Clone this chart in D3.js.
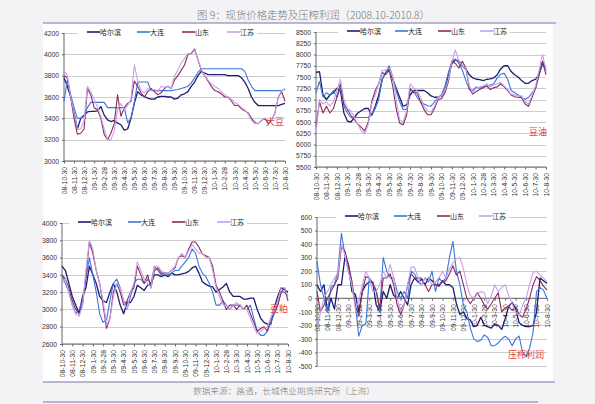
<!DOCTYPE html>
<html>
<head>
<meta charset="utf-8">
<script src="https://cdn.jsdelivr.net/npm/d3@7/dist/d3.min.js"></script>
<style>
  body { margin: 0; background: #f3f3f5; }
  svg { display: block; font-family: "Liberation Sans", Arial, sans-serif; }
  .cn { font-family: "Noto Sans CJK SC", sans-serif; }
  .axis path, .axis line { stroke: #666; }
  .axis text { fill: #333; font-size: 6.8px; }
</style>
</head>
<body>
<svg id="chart" width="595" height="404"></svg>
<script>
// tick labels along the time axis (one every 3 points)
const dateLabels = ["08-10-30","08-11-30","08-12-30","09-1-30","09-2-28","09-3-30","09-4-30",
  "09-5-30","09-6-30","09-7-30","09-8-30","09-9-30","09-10-30","09-11-30","09-12-30",
  "10-1-30","10-2-28","10-3-30","10-4-30","10-5-30","10-6-30","10-7-30","10-8-30"];
const regions = ["哈尔滨", "大连", "山东", "江苏"];

// 大豆 spot price
const soyHrb = [3780,3700,3600,3450,3300,3400,3430,3460,3465,3465,
  3470,3510,3430,3385,3370,3380,3355,3340,3290,3300,
  3400,3540,3650,3620,3605,3590,3580,3580,3600,3605,
  3605,3600,3600,3580,3590,3620,3630,3650,3700,3740,
  3800,3840,3825,3810,3810,3810,3810,3810,3810,3800,
  3800,3800,3800,3780,3740,3680,3600,3550,3520,3520,
  3520,3520,3520,3520,3520,3530,3540];
const soyDl = [3560,3760,3620,3500,3400,3400,3420,3500,3550,3550,
  3550,3550,3550,3500,3500,3500,3500,3500,3500,3360,
  3400,3550,3740,3740,3740,3740,3660,3660,3660,3660,
  3660,3660,3660,3665,3670,3680,3690,3700,3730,3780,
  3830,3865,3865,3865,3865,3865,3865,3865,3865,3865,
  3865,3865,3865,3865,3840,3760,3700,3660,3660,3660,
  3660,3660,3660,3660,3660,3660,3670];
const soySd = [3800,3780,3600,3400,3250,3260,3300,3680,3620,3500,
  3480,3400,3250,3200,3260,3350,3620,3420,3500,3540,
  3560,3750,3700,3640,3600,3650,3680,3650,3620,3640,
  3680,3700,3680,3760,3800,3850,3900,4000,4010,4050,
  3950,3850,3800,3750,3700,3660,3650,3630,3600,3600,
  3560,3520,3520,3490,3470,3450,3400,3360,3350,3380,
  3400,3350,3380,3450,3600,3650,3560];
const soyJs = [3850,3800,3600,3450,3300,3300,3380,3700,3650,3580,
  3500,3420,3300,3200,3200,3280,3480,3540,3480,3520,
  3580,3900,3750,3660,3640,3680,3660,3670,3650,3700,
  3690,3700,3680,3800,3850,3920,3960,4010,4000,4040,
  3950,3860,3800,3760,3720,3700,3680,3650,3620,3600,
  3580,3550,3530,3500,3480,3440,3380,3350,3350,3380,
  3400,3380,3380,3450,3600,3660,3680];

// 豆油 spot price
const oilHrb = [7600,7620,7100,7000,7100,7150,7250,7200,6700,6520,
  6500,6600,6700,6750,6800,6800,6650,6850,7100,7450,
  7600,7680,7450,7250,7050,6850,6880,7100,7200,7200,
  7200,7200,7150,7080,7050,7050,7080,7200,7550,7800,
  7880,7850,7750,7680,7550,7480,7450,7440,7420,7450,
  7460,7480,7550,7680,7750,7750,7620,7550,7500,7420,
  7360,7360,7420,7450,7560,7800,7650];
const oilDl = [7150,7400,7050,7150,7100,7200,7050,7250,6850,6700,
  6600,6600,6600,6600,6600,6600,6650,6800,7000,7450,
  7600,7750,7500,7200,6950,6780,6780,7200,7200,7050,
  6950,6900,6860,6850,6950,7050,7100,7300,7600,7850,
  7900,7800,7650,7420,7220,7200,7280,7250,7280,7300,
  7320,7350,7480,7560,7580,7450,7200,7150,7100,7050,
  7000,7050,7150,7250,7550,7850,7700];
const oilSd = [6400,6950,6700,6850,6700,6800,7050,7350,6900,6780,
  6650,6550,6450,6380,6300,6500,6950,7200,7350,7600,
  7550,7650,7300,6800,6480,6440,6650,7250,7150,7150,
  6950,6780,6660,6660,6800,7000,7020,7150,7400,7850,
  7800,7700,7850,7700,7250,7120,7180,7220,7260,7300,
  7220,7260,7280,7350,7280,7200,7100,7060,7050,7040,
  6900,6850,7050,7250,7550,7850,7550];
const oilJs = [6250,7000,6900,6950,6850,6950,7200,7450,7000,6800,
  6750,6600,6450,6300,6250,6450,6900,7100,7350,7650,
  7650,7700,7500,7000,6550,6500,6750,7350,7250,7200,
  7050,6850,6750,6720,6850,7050,7080,7200,7450,7850,
  8100,7850,7750,7700,7300,7150,7250,7280,7300,7350,
  7280,7320,7350,7380,7300,7220,7120,7100,7080,7080,
  6950,6900,7100,7300,7650,8000,7650];

// 豆粕 spot price
const mealHrb = [3500,3450,3300,3150,3050,2950,3150,3250,3500,3400,
  3300,3150,3100,3080,3200,3300,3200,3050,2950,3080,
  3080,3150,3280,3250,3220,3280,3300,3400,3400,3380,
  3400,3380,3420,3400,3400,3410,3420,3440,3480,3500,
  3420,3320,3290,3270,3260,3200,3230,3260,3300,3200,
  3150,3150,3150,3120,3120,3130,3130,3000,2900,2850,
  2830,2830,3020,3150,3250,3230,3200];
const mealDl = [3400,3300,3200,3050,2950,3000,3100,3350,3600,3400,
  3200,2950,2850,2880,3100,3300,3350,3250,3100,3000,
  3150,3300,3350,3350,3300,3350,3300,3500,3450,3400,
  3420,3400,3420,3450,3450,3500,3550,3600,3700,3650,
  3500,3420,3380,3300,3200,3050,3050,3100,3050,3000,
  3050,3050,3050,3000,3000,3050,2900,2750,2700,2700,
  2750,2850,2950,3050,3200,3200,3150];
const mealSd = [3400,3350,3250,3100,3000,2950,3050,3400,3780,3650,
  3450,3300,3050,2780,2900,3200,3300,3200,3050,3100,
  3200,3250,3500,3400,3300,3400,3250,3450,3480,3420,
  3420,3420,3450,3480,3600,3620,3600,3700,3780,3780,
  3720,3640,3620,3600,3500,3280,3200,3100,3000,3050,
  3050,3000,3050,3000,3050,2950,2850,2750,2780,2800,
  2750,2900,3000,3050,3200,3250,3100];
const mealJs = [3300,3350,3200,3050,2950,2920,3050,3450,3800,3700,
  3450,3300,3100,2820,2900,3150,3300,3250,3100,3000,
  3200,3300,3550,3450,3350,3300,3250,3500,3500,3450,
  3420,3420,3450,3500,3600,3650,3600,3680,3750,3700,
  3650,3650,3600,3600,3450,3250,3150,3050,3050,3000,
  3050,3080,3050,3000,3000,2900,2800,2720,2750,2780,
  2800,2900,3000,3100,3250,3250,3150];

// 压榨利润 crushing margin
const profitHrb = [100,50,100,-100,0,-80,100,100,300,250,
  50,30,-100,50,100,120,120,-50,-100,50,
  0,100,20,0,50,0,-50,100,150,120,
  140,100,150,130,100,90,130,100,100,80,
  -40,-120,-100,-150,-160,-210,-200,-140,-200,-210,
  -220,-190,-200,-230,-150,-60,-30,-80,-180,-200,
  -210,-210,-200,-100,150,130,110];
const profitDl = [270,100,0,-100,80,100,200,480,320,200,
  100,-50,-280,-200,-190,150,100,50,-100,300,
  200,150,150,50,0,50,0,200,180,120,
  100,150,120,200,50,150,120,150,300,420,
  200,100,-50,-100,-220,-300,-320,-310,-270,-290,
  -350,-350,-330,-300,-280,-300,-350,-300,-280,-400,
  -430,-370,-250,50,80,60,0];
const profitSd = [50,-100,-50,0,50,100,150,380,350,250,
  130,-50,-130,50,160,150,110,60,-80,150,
  150,180,100,-50,-120,-50,100,180,150,150,
  150,100,50,100,100,100,120,130,180,240,
  170,200,100,0,-40,0,40,0,-50,-80,
  -40,0,40,-100,-70,-60,-90,-60,-120,-140,
  -80,0,100,160,130,90,60];
const profitJs = [-220,-100,0,50,100,150,180,400,320,200,
  100,-80,-20,100,200,150,50,50,100,200,
  150,250,150,0,-100,-50,100,230,230,150,
  100,150,150,100,120,150,200,150,220,260,
  290,300,220,100,20,0,30,50,40,-40,
  20,100,50,80,100,20,-40,-100,-130,-50,
  0,100,190,200,170,150,120];

const lineColors = ["#1c1c70", "#3b76da", "#8c2b58", "#c7a0ee"];

const panels = [
  { tag: "大豆", series: [soyHrb, soyDl, soySd, soyJs], domain: [3000, 4200], step: 200,
    left: 64, right: 285, top: 33, bottom: 161, axisAt: 3000,
    legend: [23, 73, 118, 163], tagX: 275, tagY: 125 },
  { tag: "豆油", series: [oilHrb, oilDl, oilSd, oilJs], domain: [5500, 8500], step: 250,
    left: 316, right: 546, top: 32, bottom: 167, axisAt: 5500,
    legend: [31, 79, 122, 164], tagX: 538, tagY: 135 },
  { tag: "豆粕", series: [mealHrb, mealDl, mealSd, mealJs], domain: [2600, 4000], step: 200,
    left: 62, right: 288, top: 223, bottom: 344, axisAt: 2600,
    legend: [16, 66, 110, 155], tagX: 279, tagY: 312 },
  { tag: "压榨利润", series: [profitHrb, profitDl, profitSd, profitJs], domain: [-500, 600], step: 100,
    left: 317, right: 547, top: 217, bottom: 366, axisAt: 0,
    legend: [28, 77, 120, 162], tagX: 526, tagY: 358 }
];

let svg = d3.select("#chart");

function drawFrame(svg) {
  svg.append("rect").attr("x", 43).attr("y", 23).attr("width", 510).attr("height", 358)
    .attr("fill", "#ffffff");
  svg.append("line").attr("x1", 43).attr("x2", 556).attr("y1", 23).attr("y2", 23)
    .attr("stroke", "#a3a1c4").attr("stroke-width", 1.6);
  svg.append("line").attr("x1", 43).attr("x2", 555).attr("y1", 382).attr("y2", 382)
    .attr("stroke", "#a3a1c4").attr("stroke-width", 1.4);
  svg.append("line").attr("x1", 43).attr("x2", 538).attr("y1", 402).attr("y2", 402)
    .attr("stroke", "#a3a1c4").attr("stroke-width", 1.4);

  svg.append("text").attr("class", "cn")
    .attr("x", 197).attr("y", 19)
    .attr("textLength", 233).attr("lengthAdjust", "spacingAndGlyphs")
    .attr("fill", "#777").style("font-size", "10.5px").style("font-weight", 300)
    .text("图 9：现货价格走势及压榨利润（2008.10-2010.8）");

  svg.append("text").attr("class", "cn")
    .attr("x", 193).attr("y", 394)
    .attr("textLength", 182).attr("lengthAdjust", "spacingAndGlyphs")
    .attr("fill", "#777").style("font-size", "8.5px").style("font-weight", 300)
    .text("数据来源：路透，长城伟业期货研究所（上海）");
}

function drawPanel(svg, p) {
  let g = svg.append("g");
  let x = d3.scaleLinear().domain([0, 66]).range([p.left, p.right]);
  let y = d3.scaleLinear().domain(p.domain).range([p.bottom, p.top]);
  let ticks = d3.range(p.domain[0], p.domain[1] + 1, p.step);

  g.append("g").selectAll("line").data(ticks).enter().append("line")
    .attr("x1", p.left).attr("x2", p.right)
    .attr("y1", function(d) { return Math.round(y(d)) + 0.5; })
    .attr("y2", function(d) { return Math.round(y(d)) + 0.5; })
    .attr("stroke", "#c6c6c6").attr("stroke-width", 0.9);

  g.append("g").attr("class", "axis")
    .attr("transform", "translate(" + p.left + ",0)")
    .call(d3.axisLeft(y).tickValues(ticks).tickSize(2).tickPadding(3)
      .tickFormat(function(d) { return String(d); }))
    .call(function(a) { a.select(".domain").attr("d", "M0," + p.top + "V" + p.bottom); });

  let xa = g.append("g").attr("class", "axis")
    .attr("transform", "translate(0," + y(p.axisAt) + ")")
    .call(d3.axisBottom(x).tickValues(d3.range(0, 67, 3)).tickSize(2.5)
      .tickFormat(function(d) { return dateLabels[d / 3]; }));
  xa.select(".domain").attr("d", "M" + p.left + ",0H" + p.right);
  xa.selectAll("text")
    .attr("transform", "rotate(-90)")
    .attr("text-anchor", "end")
    .attr("x", -6).attr("y", 0).attr("dy", "0.33em");

  let line = d3.line()
    .x(function(d, i) { return x(i); })
    .y(function(d) { return y(d); });

  g.append("g").selectAll("path").data(p.series).enter().append("path")
    .attr("d", line)
    .attr("fill", "none")
    .attr("stroke", function(d, i) { return lineColors[i]; })
    .attr("stroke-width", function(d, i) { return i === 0 ? 1.3 : 1.1; })
    .attr("stroke-linejoin", "round");

  // legend sits on the top grid line
  let lg = g.append("g");
  lg.append("rect")
    .attr("x", p.left + p.legend[0] - 9).attr("y", p.top - 5)
    .attr("width", p.legend[3] - p.legend[0] + 39).attr("height", 10)
    .attr("fill", "#fff");
  let item = lg.selectAll("g").data(regions).enter().append("g")
    .attr("transform", function(d, i) { return "translate(" + (p.left + p.legend[i]) + "," + (p.top - 1) + ")"; });
  item.append("line").attr("x1", 0).attr("x2", 13).attr("y1", 0).attr("y2", 0)
    .attr("stroke", function(d, i) { return lineColors[i]; }).attr("stroke-width", 1.6);
  item.append("text").attr("class", "cn")
    .attr("x", 13).attr("y", 2.6)
    .attr("fill", "#222").style("font-size", "7px")
    .text(function(d) { return d; });

  g.append("text").attr("class", "cn")
    .attr("x", p.tagX).attr("y", p.tagY)
    .attr("text-anchor", "middle")
    .attr("fill", "#e8413a").style("font-size", "9px")
    .text(p.tag);
}

drawFrame(svg);
panels.forEach(function(p) { drawPanel(svg, p); });
</script>
</body>
</html>
